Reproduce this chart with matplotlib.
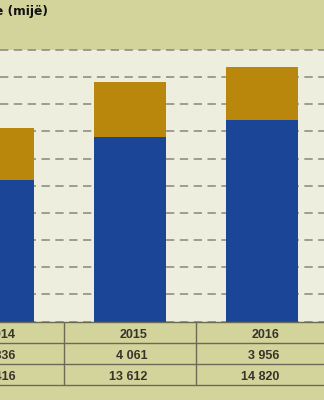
import matplotlib
matplotlib.use("Agg")
import matplotlib.pyplot as plt

# ---- data ----
years = ["2014", "2015", "2016"]
gold_values = [3836, 4061, 3956]
blue_values = [10416, 13612, 14820]
gold_labels = ["3 836", "4 061", "3 956"]
blue_labels = ["10 416", "13 612", "14 820"]
title_text = "e (mijë)"

# ---- style ----
OLIVE = "#d3d39c"
CREAM = "#eeeedf"
GOLD = "#b8870b"
BLUE = "#1b4596"
GRID = "#8e8e84"
LINE = "#6a6a55"
TXT = "#35352c"

W, H = 324, 400
fig = plt.figure(figsize=(W / 100, H / 100), dpi=100, facecolor=OLIVE)

def px_box(x0, y0, x1, y1):
    return [x0 / W, 1 - y1 / H, (x1 - x0) / W, (y1 - y0) / H]

xmin, xmax = 2 / 132, 326 / 132
xpos = list(range(len(years)))

# main plot
ax = fig.add_axes(px_box(0, 50, W, 321.5))
ax.set_facecolor(CREAM)
ax.set_xlim(xmin, xmax)
ax.set_ylim(0, 20000)
ax.bar(xpos, blue_values, width=0.55, color=BLUE, zorder=3)
ax.bar(xpos, gold_values, width=0.55, bottom=blue_values, color=GOLD, zorder=3)
ax.set_yticks(range(0, 20001, 2000))
ax.yaxis.grid(True, color=GRID, linestyle=(0, (5.0, 3.3)), linewidth=1.2, zorder=1)
for gl in ax.get_ygridlines():
    gl.set_clip_on(False)
ax.tick_params(left=False, bottom=False, labelleft=False, labelbottom=False)
for s in ax.spines.values():
    s.set_visible(False)

# table
tax = fig.add_axes(px_box(0, 321.5, W, 385))
tax.set_facecolor(OLIVE)
tax.set_xlim(xmin, xmax)
tax.set_ylim(3, 0)
for s in tax.spines.values():
    s.set_visible(False)
tax.set_xticks([]); tax.set_yticks([])
for yl in [0, 1, 2, 3]:
    tax.axhline(yl, color=LINE, lw=1.0, clip_on=False)
for xb in [0.5, 1.5]:
    tax.axvline(xb, color=LINE, lw=1.0)
rows = [years, gold_labels, blue_labels]
for r, labels in enumerate(rows):
    for i, lab in enumerate(labels):
        tax.text(xpos[i] + 0.135, r + 0.77, lab, ha="right", va="baseline",
                 fontsize=9.0, color=TXT, family=["Liberation Sans", "DejaVu Sans"],
                 fontweight="bold")

# title in header band
fig.text(47.5 / W, 1 - 12 / H, title_text, ha="right", va="center",
         fontsize=8.8, fontweight="bold", color="#111111",
         family=["DejaVu Sans"])

fig.savefig("out.png", dpi=100, facecolor=OLIVE)
